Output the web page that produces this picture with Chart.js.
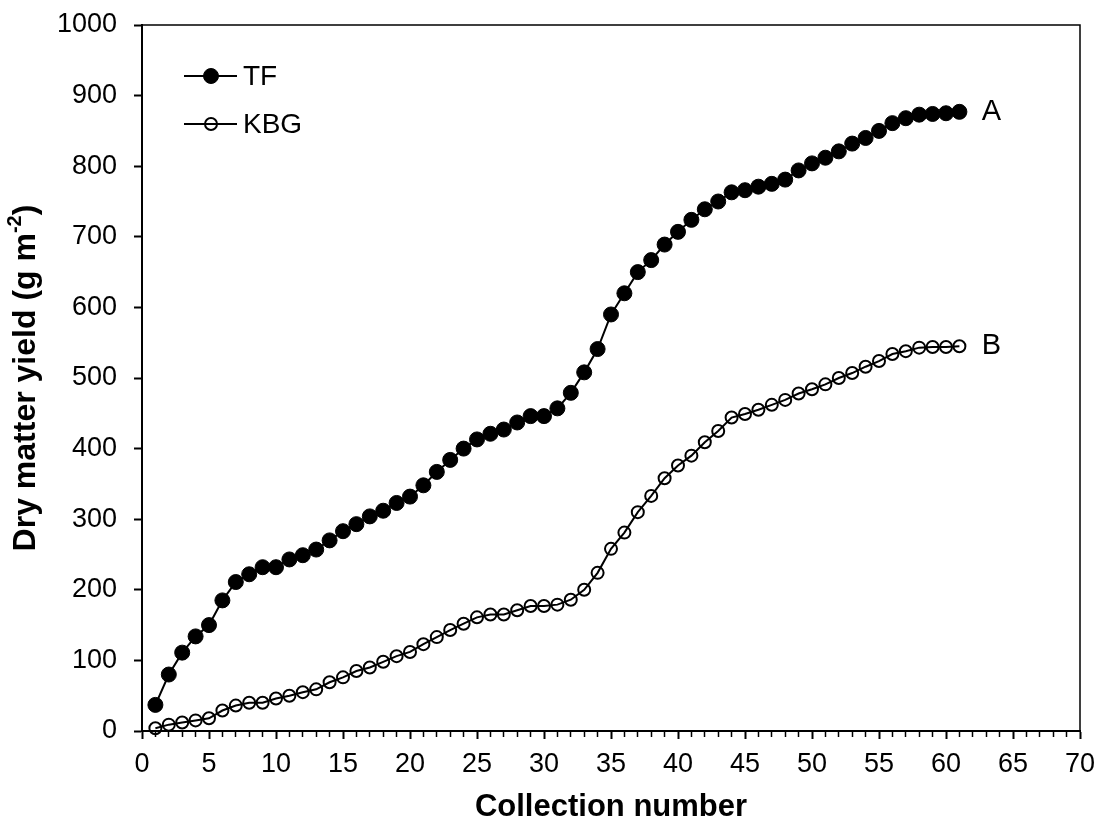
<!DOCTYPE html>
<html>
<head>
<meta charset="utf-8">
<script src="https://cdn.jsdelivr.net/npm/chart.js@4.4.1/dist/chart.umd.min.js"></script>
<style>
  html, body { margin: 0; padding: 0; background: #fff; }
  #wrap { width: 1101px; height: 824px; }
</style>
</head>
<body>
<div id="wrap"><canvas id="yieldChart" width="1101" height="824"></canvas></div>
<script>
// Data
const collections = [1, 2, 3, 4, 5, 6, 7, 8, 9, 10, 11, 12, 13, 14, 15, 16, 17, 18, 19, 20,
  21, 22, 23, 24, 25, 26, 27, 28, 29, 30, 31, 32, 33, 34, 35, 36, 37, 38, 39, 40,
  41, 42, 43, 44, 45, 46, 47, 48, 49, 50, 51, 52, 53, 54, 55, 56, 57, 58, 59, 60, 61];

const tfYield = [37, 80, 111, 134, 150, 185, 211, 222, 232, 232, 243, 249, 257, 270, 283, 293, 304, 312, 323, 332,
  348, 367, 384, 400, 413, 421, 427, 437, 446, 446, 457, 479, 508, 541, 590, 620, 650, 667, 689, 707,
  724, 739, 750, 763, 766, 771, 775, 781, 794, 804, 812, 821, 832, 840, 850, 861, 868, 873, 874, 875, 877];

const kbgYield = [4, 9, 12, 15, 18, 29, 36, 40, 40, 46, 50, 55, 59, 69, 76, 85, 90, 98, 106, 112,
  123, 133, 143, 152, 161, 165, 165, 171, 177, 177, 179, 186, 200, 224, 258, 281, 310, 333, 358, 376,
  390, 409, 425, 444, 449, 455, 462, 469, 478, 484, 491, 500, 507, 516, 524, 534, 538, 543, 544, 544, 545];

const seriesNames = ["TF", "KBG"];
const endLabels = ["A", "B"];

const FONT = "'Liberation Sans', Arial, Helvetica, sans-serif";

function toPoints(values) {
  return values.map((v, i) => ({ x: collections[i], y: v }));
}

// Frame, legend, A/B labels and y title
const extras = {
  id: "extras",
  afterDraw(chart) {
    const { ctx, chartArea } = chart;
    ctx.save();

    // top and right frame
    ctx.strokeStyle = "#000";
    ctx.lineWidth = 1.5;
    ctx.beginPath();
    ctx.moveTo(chartArea.left, chartArea.top);
    ctx.lineTo(chartArea.right, chartArea.top);
    ctx.lineTo(chartArea.right, chartArea.bottom);
    ctx.stroke();

    // labels at the end of each curve
    ctx.fillStyle = "#000";
    ctx.font = "29px " + FONT;
    ctx.textAlign = "center";
    ctx.textBaseline = "middle";
    chart.data.datasets.forEach((ds, i) => {
      const pts = chart.getDatasetMeta(i).data;
      const last = pts[pts.length - 1];
      ctx.fillText(endLabels[i], last.x + 32, last.y);
    });

    // legend
    ctx.font = "28px " + FONT;
    ctx.textAlign = "left";
    chart.data.datasets.forEach((ds, i) => {
      const y = chartArea.top + 51 + i * 48;
      const x0 = chartArea.left + 42;
      ctx.strokeStyle = "#000";
      ctx.lineWidth = 2;
      ctx.beginPath();
      ctx.moveTo(x0, y);
      ctx.lineTo(x0 + 53, y);
      ctx.stroke();
      ctx.beginPath();
      ctx.arc(x0 + 27, y, ds.pointRadius, 0, Math.PI * 2);
      if (ds.pointBackgroundColor !== "rgba(0,0,0,0)") {
        ctx.fillStyle = ds.pointBackgroundColor;
        ctx.fill();
      }
      ctx.lineWidth = ds.pointBorderWidth;
      ctx.stroke();
      ctx.fillStyle = "#000";
      ctx.fillText(seriesNames[i], x0 + 59, y + 1);
    });

    // y axis title with superscript
    const cy = (chartArea.top + chartArea.bottom) / 2;
    ctx.translate(26, cy);
    ctx.rotate(-Math.PI / 2);
    const big = "bold 32px " + FONT;
    const small = "bold 20px " + FONT;
    const parts = [["Dry matter yield (g m", big, 0], ["-2", small, -11], [")", big, 0]];
    let total = 0;
    parts.forEach(p => { ctx.font = p[1]; total += ctx.measureText(p[0]).width; });
    let x = -total / 2;
    ctx.textBaseline = "middle";
    parts.forEach(p => {
      ctx.font = p[1];
      ctx.fillText(p[0], x, p[2]);
      x += ctx.measureText(p[0]).width;
    });

    ctx.restore();
  }
};

new Chart(document.getElementById("yieldChart"), {
  type: "line",
  data: {
    datasets: [
      {
        label: seriesNames[0],
        data: toPoints(tfYield),
        borderColor: "#000",
        borderWidth: 2,
        pointRadius: 7.5,
        pointBorderWidth: 1,
        pointBackgroundColor: "#000",
        pointBorderColor: "#000",
        clip: false
      },
      {
        label: seriesNames[1],
        data: toPoints(kbgYield),
        borderColor: "#000",
        borderWidth: 2,
        pointRadius: 6,
        pointBorderWidth: 2,
        pointBackgroundColor: "rgba(0,0,0,0)",
        pointBorderColor: "#000",
        clip: false
      }
    ]
  },
  options: {
    responsive: false,
    animation: false,
    events: [],
    layout: { padding: { top: 25, right: 21, left: 0, bottom: 0 } },
    plugins: { legend: { display: false }, tooltip: { enabled: false } },
    scales: {
      x: {
        type: "linear",
        min: 0,
        max: 70,
        border: { color: "#000", width: 2 },
        grid: {
          drawOnChartArea: false,
          drawTicks: true,
          tickLength: 8,
          tickColor: "#000",
          tickWidth: c => (c.tick && c.tick.value % 5 === 0 ? 2 : 1.5),
          tickBorderDash: c => (c.tick && c.tick.value % 5 === 0 ? [] : [5, 30])
        },
        ticks: {
          stepSize: 1,
          autoSkip: false,
          maxRotation: 0,
          color: "#000",
          padding: 9,
          font: { family: FONT, size: 27 },
          callback: v => (v % 5 === 0 ? String(v) : "")
        },
        title: {
          display: true,
          text: "Collection number",
          color: "#000",
          font: { family: FONT, size: 31, weight: "bold", lineHeight: 1 },
          padding: { top: 0, bottom: 1 }
        },
        afterFit: s => { s.height = 93; s.paddingLeft = 0; s.paddingRight = 0; }
      },
      y: {
        min: 0,
        max: 1000,
        border: { color: "#000", width: 2 },
        grid: {
          drawOnChartArea: false,
          drawTicks: true,
          tickLength: 8,
          tickColor: "#000",
          tickWidth: 2
        },
        ticks: {
          stepSize: 100,
          color: "#000",
          padding: 17,
          font: { family: FONT, size: 27 },
          callback: v => String(v)
        },
        afterFit: s => { s.width = 142; s.paddingTop = 0; s.paddingBottom = 0; }
      }
    }
  },
  plugins: [extras]
});
</script>
</body>
</html>
